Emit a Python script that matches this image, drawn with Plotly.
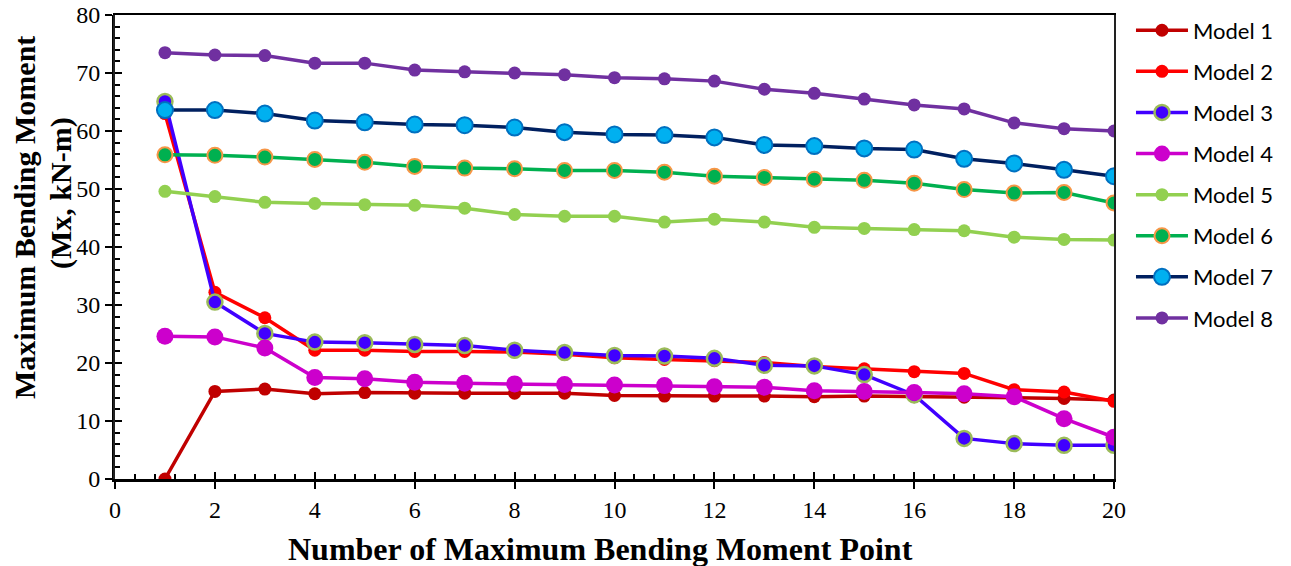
import plotly.graph_objects as go

points = list(range(1, 21))

model_names = ["Model 1", "Model 2", "Model 3", "Model 4", "Model 5", "Model 6", "Model 7", "Model 8"]

model1 = [0.0, 15.1, 15.5, 14.7, 14.9, 14.8, 14.8, 14.8, 14.8, 14.4, 14.3, 14.3, 14.3, 14.2, 14.3, 14.2, 14.1, 14.0, 13.9, 13.6]
model2 = [63.0, 32.2, 27.8, 22.2, 22.2, 22.0, 22.0, 21.9, 21.5, 20.9, 20.6, 20.4, 20.1, 19.4, 19.0, 18.5, 18.2, 15.4, 15.0, 13.4]
model3 = [65.1, 30.5, 25.1, 23.6, 23.5, 23.2, 23.0, 22.2, 21.8, 21.3, 21.2, 20.8, 19.6, 19.5, 18.0, 14.5, 7.0, 6.1, 5.8, 5.8]
model4 = [24.6, 24.5, 22.6, 17.5, 17.3, 16.7, 16.5, 16.4, 16.3, 16.2, 16.1, 15.9, 15.8, 15.2, 15.1, 14.9, 14.7, 14.2, 10.4, 7.2]
model5 = [49.6, 48.7, 47.7, 47.5, 47.3, 47.2, 46.7, 45.6, 45.3, 45.3, 44.3, 44.8, 44.3, 43.4, 43.2, 43.0, 42.8, 41.7, 41.3, 41.2]
model6 = [55.9, 55.8, 55.5, 55.1, 54.6, 53.9, 53.6, 53.5, 53.2, 53.2, 52.9, 52.2, 52.0, 51.7, 51.5, 51.0, 49.9, 49.3, 49.4, 47.6]
model7 = [63.6, 63.6, 63.0, 61.8, 61.5, 61.1, 61.0, 60.6, 59.8, 59.4, 59.3, 58.9, 57.6, 57.4, 57.0, 56.8, 55.2, 54.4, 53.3, 52.2]
model8 = [73.5, 73.1, 73.0, 71.7, 71.7, 70.5, 70.2, 70.0, 69.7, 69.2, 69.0, 68.6, 67.2, 66.5, 65.5, 64.5, 63.8, 61.4, 60.4, 60.0]

x_ticks = list(range(0, 21, 2))
y_ticks = list(range(0, 81, 10))

series = [model1, model2, model3, model4, model5, model6, model7, model8]

styles = [
    dict(line="#C00000", fill="#C00000", edge="#C00000", size=13, ew=0),
    dict(line="#FF0000", fill="#FF0000", edge="#FF0000", size=13, ew=0),
    dict(line="#4000FF", fill="#4000FF", edge="#9BBB59", size=15, ew=2.5),
    dict(line="#CC00CC", fill="#CC00CC", edge="#CC00CC", size=17, ew=0),
    dict(line="#92D050", fill="#92D050", edge="#92D050", size=13, ew=0),
    dict(line="#00B050", fill="#00B050", edge="#F79646", size=15, ew=2),
    dict(line="#002060", fill="#00B0F0", edge="#0070C0", size=16, ew=2),
    dict(line="#7030A0", fill="#7030A0", edge="#7030A0", size=13, ew=0),
]

fig = go.Figure()

# helper axis (inside ticks / frame)
fig.add_trace(go.Scatter(x=[], y=[], xaxis="x2", yaxis="y2", showlegend=False, hoverinfo="skip"))

for i, (name, vals, st) in enumerate(zip(model_names, series, styles)):
    fig.add_trace(go.Scatter(
        x=points, y=vals, name=name, mode="lines+markers",
        legendgroup=name,
        line=dict(color=st["line"], width=3.5),
        marker=dict(color=st["fill"], size=st["size"],
                    line=dict(color=st["edge"], width=st["ew"])),
    ))

tickfont = dict(family="Liberation Serif", size=24, color="black")

fig.update_layout(
    width=1291, height=566,
    margin=dict(l=115, r=177, t=15, b=87, autoexpand=False),
    plot_bgcolor="white", paper_bgcolor="white",
    showlegend=True,
    legend=dict(
        x=1.017, xanchor="left", y=1.012, yanchor="top",
        font=dict(family="Lato", size=22, color="black"),
        tracegroupgap=9.5, traceorder="grouped", itemwidth=52,
        maxheight=540,
        bgcolor="rgba(0,0,0,0)",
    ),
    xaxis=dict(
        range=[0, 20], tickvals=x_ticks, ticks="outside", ticklen=7, tickwidth=2,
        tickcolor="black", showline=True, linecolor="black", linewidth=3,
        showgrid=False, zeroline=False, tickfont=tickfont, automargin=False,
    ),
    yaxis=dict(
        range=[0, 80], tickvals=y_ticks, ticks="outside", ticklen=7, tickwidth=2,
        tickcolor="black", showline=True, linecolor="black", linewidth=3,
        showgrid=False, zeroline=False, tickfont=tickfont, automargin=False,
    ),
    xaxis2=dict(
        overlaying="x", anchor="y2", side="bottom", range=[0, 20],
        tickvals=x_ticks, ticks="inside", ticklen=7, tickwidth=2, tickcolor="black",
        minor=dict(ticks="inside", ticklen=5, tickwidth=2, tickcolor="black", dtick=0.4, tick0=0),
        showticklabels=False, showline=True, linecolor="black", linewidth=2, mirror=True,
        showgrid=False, zeroline=False, automargin=False,
    ),
    yaxis2=dict(
        overlaying="y", anchor="x2", side="left", range=[0, 80],
        tickvals=y_ticks, ticks="inside", ticklen=7, tickwidth=2, tickcolor="black",
        minor=dict(ticks="inside", ticklen=5, tickwidth=2, tickcolor="black", dtick=2, tick0=0),
        showticklabels=False, showline=True, linecolor="#222222", linewidth=1.5, mirror=True,
        showgrid=False, zeroline=False, automargin=False,
    ),
)

title_font = dict(family="Liberation Serif", size=30, color="black", weight="bold")

fig.add_annotation(
    text="Maximum Bending Moment", textangle=-90, showarrow=False,
    xref="paper", yref="paper", x=0, y=(479 - 218) / 464, xanchor="center", yanchor="middle",
    xshift=-91, font=title_font,
)
fig.add_annotation(
    text="(Mx, kN-m)", textangle=-90, showarrow=False,
    xref="paper", yref="paper", x=0, y=(479 - 193) / 464, xanchor="center", yanchor="middle",
    xshift=-54, font=title_font,
)
fig.add_annotation(
    text="Number of Maximum Bending Moment Point", showarrow=False,
    xref="paper", yref="paper", x=(600 - 115) / 999, y=-0.151, xanchor="center", yanchor="middle",
    font=dict(family="Liberation Serif", size=32, color="black", weight="bold"),
)

fig.write_html("out.html")
